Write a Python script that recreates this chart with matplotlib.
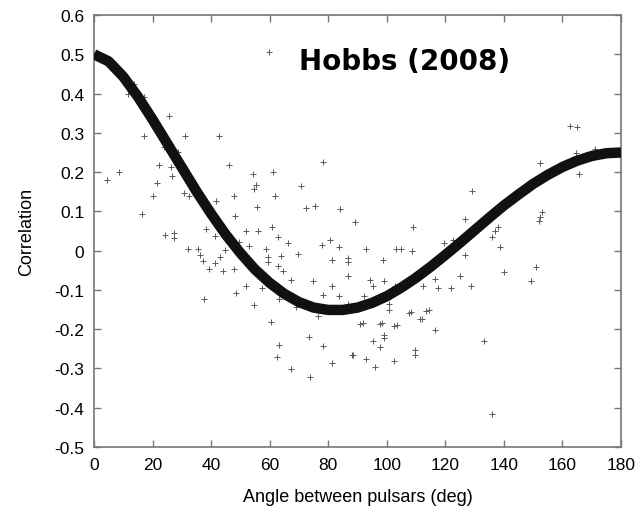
import numpy as np
import matplotlib.pyplot as plt

plt.rcParams['font.family'] = ['Liberation Sans', 'DejaVu Sans']
plt.rcParams['axes.unicode_minus'] = False

# expected correlation curve (Hellings-Downs), sampled every 5 deg
curve_angle = [0, 5, 10, 15, 20, 25, 30, 35, 40, 45, 50, 55, 60, 65, 70, 75, 80, 85, 90,
               95, 100, 105, 110, 115, 120, 125, 130, 135, 140, 145, 150, 155, 160, 165,
               170, 175, 180]
curve_corr = [0.500, 0.482, 0.443, 0.392, 0.334, 0.273, 0.212, 0.151, 0.094, 0.041,
              -0.006, -0.048, -0.082, -0.110, -0.131, -0.145, -0.151, -0.151, -0.145,
              -0.133, -0.116, -0.094, -0.069, -0.041, -0.011, 0.020, 0.052, 0.084,
              0.115, 0.143, 0.170, 0.193, 0.213, 0.229, 0.241, 0.248, 0.250]

# measured pulsar-pair correlations
pair_angle = [4.3, 8.6, 11.7, 13.7, 17.1, 16.3, 17.1, 20.0, 21.5, 22.3, 24.0, 25.7, 26.3,
              26.6, 28.6, 31.1, 30.6, 32.3, 24.1, 27.4, 27.4, 32.0, 35.4, 36.3, 37.1, 37.7,
              38.1, 39.3, 41.5, 41.3, 43.2, 44.2, 41.7, 42.8, 44.8, 46.2, 47.7, 48.2, 47.7,
              48.4, 49.6, 51.9, 51.9, 53.0, 54.2, 54.7, 55.3, 55.7, 55.9, 54.8, 57.4, 58.7,
              59.5, 59.5, 59.7, 60.5, 60.7, 61.0, 61.9, 62.7, 62.8, 63.9, 64.7, 66.4, 67.3,
              63.1, 63.3, 62.4, 67.3, 69.6, 69.0, 70.7, 72.4, 75.5, 73.4, 73.9, 74.7, 76.4,
              77.9, 78.2, 80.6, 81.3, 83.7, 84.1, 81.3, 78.2, 78.2, 83.7, 81.3, 86.7, 86.7,
              86.7, 86.7, 88.4, 89.1, 92.9, 103.2, 104.9, 108.7, 108.9, 119.5, 122.6, 126.6,
              126.8, 129.1, 98.6, 94.4, 95.2, 99.0, 92.1, 100.7, 100.9, 102.9, 112.3, 116.3,
              117.5, 122.1, 124.9, 128.9, 108.1, 114.3, 112.0, 116.6, 91.8, 98.3, 103.4,
              99.2, 99.0, 95.2, 97.8, 92.9, 96.0, 102.4, 109.8, 109.5, 133.1, 135.8, 136.0,
              136.8, 137.9, 138.7, 140.2, 149.1, 151.1, 151.9, 152.4, 153.1, 152.2, 162.5,
              165.0, 164.6, 165.7, 171.0, 88.0, 91.0, 97.7, 102.6, 107.5, 111.4, 113.5]
pair_corr = [0.180, 0.199, 0.399, 0.424, 0.390, 0.094, 0.291, 0.138, 0.171, 0.219, 0.265,
             0.343, 0.212, 0.189, 0.250, 0.291, 0.147, 0.138, 0.040, 0.044, 0.033, 0.003,
             0.003, -0.010, -0.026, -0.124, 0.055, -0.048, 0.038, -0.031, -0.015, -0.053,
             0.127, 0.291, 0.002, 0.217, 0.140, 0.089, -0.048, -0.108, 0.022, 0.051, -0.090,
             0.011, 0.194, 0.157, 0.167, 0.112, 0.051, -0.139, -0.094, 0.003, -0.016,
             -0.029, 0.506, -0.181, 0.059, 0.199, 0.140, 0.034, -0.040, -0.014, -0.052,
             0.020, -0.075, -0.122, -0.241, -0.272, -0.302, -0.009, -0.143, 0.165, 0.108,
             0.113, -0.221, -0.321, -0.077, -0.166, 0.014, 0.226, 0.028, -0.024, 0.008,
             0.106, -0.090, -0.243, -0.113, -0.116, -0.287, -0.018, -0.029, -0.065, -0.135,
             -0.266, 0.074, 0.003, 0.003, 0.003, -0.002, 0.061, 0.020, 0.026, -0.012, 0.081,
             0.151, -0.024, -0.074, -0.090, -0.078, -0.116, -0.135, -0.152, -0.090, -0.090,
             -0.071, -0.094, -0.094, -0.065, -0.090, -0.156, -0.150, -0.173, -0.202, -0.184,
             -0.184, -0.190, -0.214, -0.222, -0.230, -0.245, -0.277, -0.296, -0.281, -0.253,
             -0.266, -0.230, -0.416, 0.035, 0.051, 0.059, 0.009, -0.054, -0.077, -0.041,
             0.076, 0.086, 0.099, 0.222, 0.318, 0.316, 0.248, 0.195, 0.258, -0.267, -0.186,
             -0.186, -0.192, -0.158, -0.175, -0.153]

x_ticks = np.arange(0, 181, 20)
y_ticks = np.round(np.arange(-0.5, 0.61, 0.1), 1) + 0.0

fig = plt.figure(figsize=(6.38, 5.10), dpi=100)
ax = fig.add_axes([0.1473, 0.1216, 0.8261, 0.847])

ax.plot(pair_angle, pair_corr, linestyle='none', marker='+', markersize=5,
        markeredgewidth=0.7, color='#5a5a5a', zorder=2)
ax.plot(curve_angle, curve_corr, color='#111111', linewidth=7.5,
        solid_capstyle='butt', zorder=3)

ax.set_xlim(0, 180)
ax.set_ylim(-0.5, 0.6)
ax.set_xticks(x_ticks)
ax.set_yticks(y_ticks)
ax.set_xticklabels([f'{v:g}' for v in x_ticks])
ax.set_yticklabels(['0' if abs(v) < 1e-9 else f'{v:g}' for v in y_ticks])
ax.tick_params(direction='in', length=5, width=1, color='#777777',
               top=True, right=True, labelsize=12.5, pad=7)
for s in ax.spines.values():
    s.set_color('#777777')
    s.set_linewidth(1.2)

ax.set_xlabel('Angle between pulsars (deg)', fontsize=13, labelpad=12)
ax.set_ylabel('Correlation', fontsize=13, labelpad=14)

ax.text(106, 0.483, 'Hobbs (2008)', fontsize=20, fontweight='bold',
        family='DejaVu Sans', ha='center', va='center')

plt.savefig('out.png', dpi=100)
